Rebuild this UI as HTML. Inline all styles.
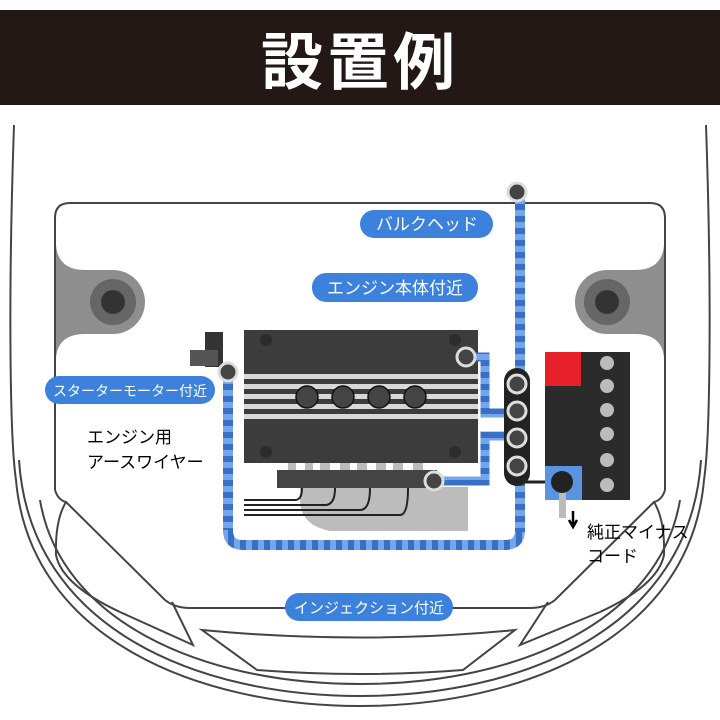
<!DOCTYPE html>
<html><head><meta charset="utf-8"><style>
html,body{margin:0;padding:0;background:#fff;}
svg{display:block}
text{font-family:"Liberation Sans","Noto Sans CJK JP",sans-serif;}
</style></head><body>
<svg width="720" height="720" viewBox="0 0 720 720" xmlns="http://www.w3.org/2000/svg">
<defs>
<pattern id="dv" width="10" height="12" patternUnits="userSpaceOnUse"><rect width="10" height="12" fill="#74a6ec"/><rect width="10" height="6" fill="#3a6fc6"/></pattern>
<pattern id="dh" width="12" height="10" patternUnits="userSpaceOnUse"><rect width="12" height="10" fill="#74a6ec"/><rect width="6" height="10" fill="#3a6fc6"/></pattern>
</defs>
<rect x="0" y="10" width="720" height="95" fill="#231815"/>
<text x="360" y="84" font-size="62" font-weight="bold" fill="#fff" text-anchor="middle" letter-spacing="4">設置例</text>

<g fill="none" stroke="#444" stroke-width="2">
<path d="M14,125 C8,300 10,440 16,480 C30,640 200,706 360,706 C520,706 690,640 704,480 C710,440 712,300 706,125"/>
<path d="M19,460 C30,630 200,696 360,696 C520,696 690,630 701,460"/>
<path d="M40,500 C60,620 200,684 360,684 C520,684 660,620 680,500"/>
<path d="M55,490 L55,218 Q55,203 70,203 L650,203 Q665,203 665,218 L665,490"/>
<path d="M55,490 Q58,500 66,502 L165,600 Q175,608 190,608 L290,608"/>
<path d="M665,490 Q662,500 654,502 L555,600 Q545,608 530,608 L450,608"/>
<path d="M66,502 Q55,520 56,555 Q62,585 120,612 L193,645 L172,602"/>
<path d="M654,502 Q665,520 664,555 Q658,585 600,612 L520,645 L548,602"/>
<path d="M202,630 Q360,645 515,630 L463,670 Q360,678 257,670 Z"/>
</g>
<g fill="#8e8e8e">
<path d="M56,245 Q58,270 85,270 L113,270 A32,32 0 0 1 113,334 L85,334 Q58,334 56,358 Z"/>
<path d="M664,245 Q662,270 635,270 L607,270 A32,32 0 0 0 607,334 L635,334 Q662,334 664,358 Z"/>
</g>
<circle cx="113" cy="302" r="23" fill="#666"/><circle cx="113" cy="302" r="12" fill="#333"/>
<circle cx="607" cy="302" r="23" fill="#666"/><circle cx="607" cy="302" r="12" fill="#333"/>

<!-- engine -->
<path d="M300,487 L468,487 L468,531 L330,531 Q300,525 300,500 Z" fill="#bcbcbc"/>
<rect x="244" y="330" width="234" height="133" fill="#3c3c3c"/>
<g fill="#d8d8d8"><rect x="244" y="374" width="234" height="5"/><rect x="244" y="384" width="234" height="5"/><rect x="244" y="394" width="234" height="5"/><rect x="244" y="404" width="234" height="5"/><rect x="244" y="414" width="234" height="5"/></g>
<g fill="#2c2c2c"><circle cx="266" cy="340" r="6"/><circle cx="455" cy="340" r="6"/><circle cx="266" cy="452" r="6"/><circle cx="455" cy="452" r="6"/></g>
<g fill="#444" stroke="#111" stroke-width="1.5"><circle cx="307" cy="397" r="11"/><circle cx="343" cy="397" r="11"/><circle cx="379" cy="397" r="11"/><circle cx="415" cy="397" r="11"/></g>
<g fill="#bbb"><rect x="288" y="463" width="8" height="8"/><rect x="305" y="463" width="8" height="8"/><rect x="320" y="463" width="10" height="8"/><rect x="340" y="463" width="10" height="8"/><rect x="357" y="463" width="10" height="8"/><rect x="376" y="463" width="10" height="8"/><rect x="393" y="463" width="10" height="8"/><rect x="413" y="463" width="10" height="8"/></g>
<rect x="277" y="470" width="160" height="18" fill="#444"/>
<g fill="none" stroke="#222" stroke-width="2">
<path d="M244,500 L295,500 Q302,500 302,488"/>
<path d="M244,505 L325,505 Q335,505 335,488"/>
<path d="M244,510 L360,510 Q370,510 370,488"/>
<path d="M244,515 L400,515 Q408,515 408,488"/>
</g>
<rect x="205" y="332" width="18" height="35" fill="#333"/><rect x="190" y="350" width="28" height="16" fill="#555"/>

<!-- wires -->
<rect x="223" y="372" width="10" height="160" fill="url(#dv)"/>
<path d="M228,530 Q228,545 243,545 L505,545 Q520,545 520,530" fill="none" stroke="url(#dh)" stroke-width="10"/>
<rect x="515" y="192" width="10" height="340" fill="url(#dv)"/>
<path d="M466,357 L485,357 L485,413 L517,413" fill="none" stroke="url(#dv)" stroke-width="9"/>
<path d="M434,481 L485,481 L485,436 L517,436" fill="none" stroke="url(#dv)" stroke-width="9"/>
<rect x="504" y="368" width="26" height="118" rx="13" fill="#222"/>
<line x1="525" y1="482" x2="562" y2="482" stroke="#222" stroke-width="3"/>
<g fill="#444" stroke="#ddd" stroke-width="3">
<circle cx="517" cy="384" r="9"/><circle cx="517" cy="411" r="9"/><circle cx="517" cy="438" r="9"/><circle cx="517" cy="466" r="9"/>
<circle cx="228" cy="372" r="9"/><circle cx="466" cy="357" r="9"/><circle cx="434" cy="481" r="9"/><circle cx="517" cy="192" r="9"/>
</g>
<!-- battery -->
<rect x="545" y="352" width="85" height="148" fill="#2b2b2b"/>
<rect x="545" y="352" width="36" height="34" fill="#e8202a"/>
<g fill="#bbb"><circle cx="607" cy="363" r="7"/><circle cx="607" cy="386" r="7"/><circle cx="607" cy="410" r="7"/><circle cx="607" cy="434" r="7"/><circle cx="607" cy="460" r="7"/><circle cx="607" cy="485" r="7"/></g>
<rect x="545" y="466" width="37" height="34" fill="#5a93e0"/>
<rect x="559" y="490" width="7" height="28" fill="#bbb"/>
<circle cx="562" cy="482" r="11" fill="#222"/>
<path d="M573,511 L573,524 M569,520 L573,527 L577,520" fill="none" stroke="#000" stroke-width="2.5"/>

<!-- labels -->
<g fill="#3c82dc">
<rect x="360" y="210" width="133" height="28" rx="14"/>
<rect x="312" y="273" width="166" height="29" rx="14"/>
<rect x="45" y="376" width="170" height="28" rx="14"/>
<rect x="285" y="593" width="168" height="28" rx="14"/>
</g>
<g fill="#fff" font-size="17" text-anchor="middle">
<text x="427" y="230">バルクヘッド</text>
<text x="395" y="294">エンジン本体付近</text>
<text x="130" y="396" font-size="14">スターターモーター付近</text>
<text x="369" y="613" font-size="15">インジェクション付近</text>
</g>
<g fill="#000" font-size="17">
<text x="87" y="443">エンジン用</text>
<text x="87" y="468">アースワイヤー</text>
<text x="587" y="538">純正マイナス</text>
<text x="587" y="562">コード</text>
</g>
</svg>
</body></html>
